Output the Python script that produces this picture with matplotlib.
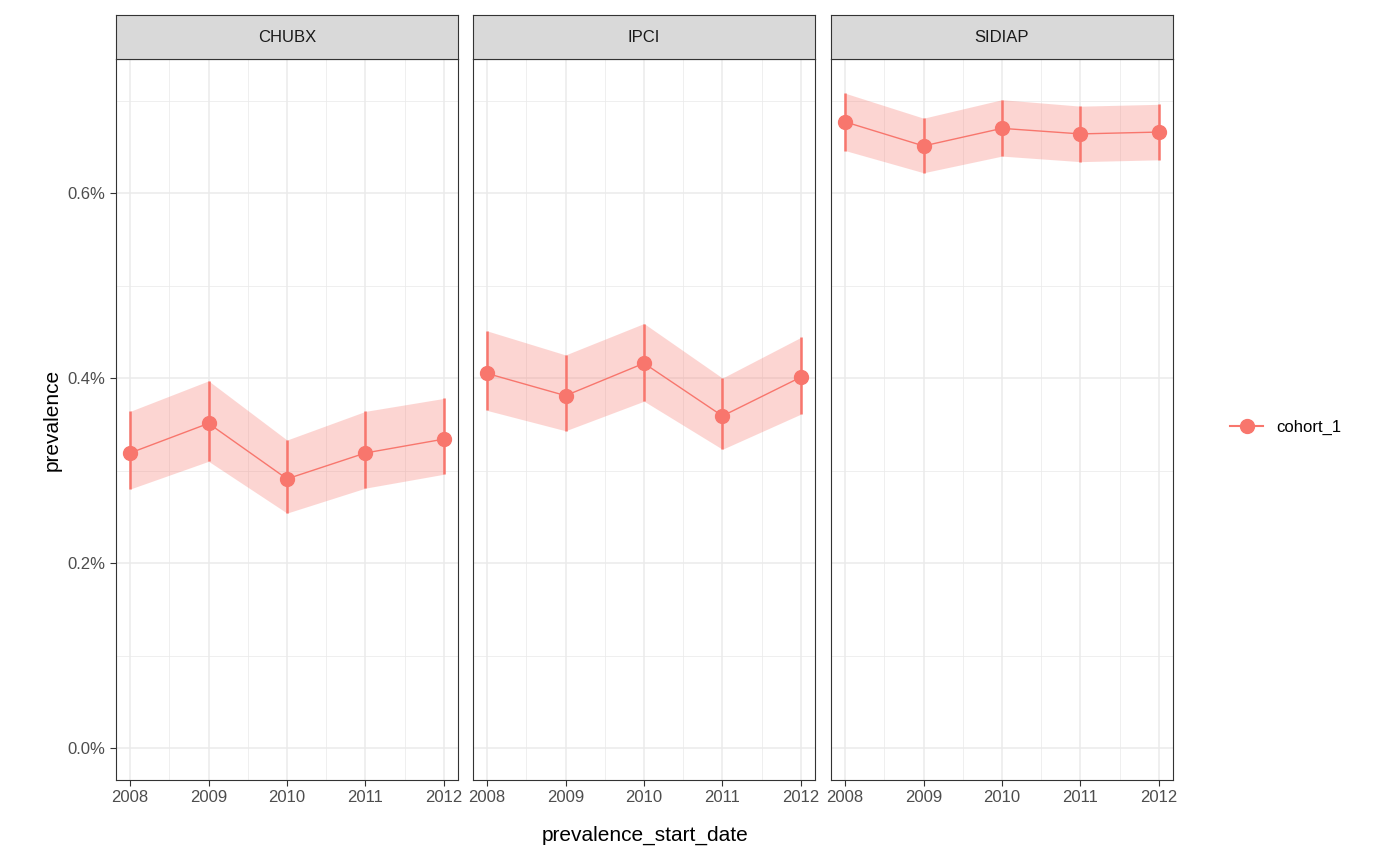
import matplotlib
matplotlib.use("Agg")
import matplotlib.pyplot as plt
from matplotlib.lines import Line2D

plt.rcParams['font.family'] = ['Liberation Sans', 'DejaVu Sans']

years = [2008, 2009, 2010, 2011, 2012]
databases = ["CHUBX", "IPCI", "SIDIAP"]
est = {
    "CHUBX": [0.319, 0.351, 0.291, 0.319, 0.334],
    "IPCI": [0.405, 0.381, 0.416, 0.359, 0.401],
    "SIDIAP": [0.677, 0.651, 0.670, 0.664, 0.666],
}
upper = {
    "CHUBX": [0.364, 0.397, 0.333, 0.364, 0.378],
    "IPCI": [0.451, 0.425, 0.459, 0.400, 0.444],
    "SIDIAP": [0.708, 0.681, 0.701, 0.694, 0.696],
}
lower = {
    "CHUBX": [0.280, 0.310, 0.254, 0.281, 0.296],
    "IPCI": [0.365, 0.343, 0.375, 0.323, 0.361],
    "SIDIAP": [0.646, 0.622, 0.640, 0.634, 0.636],
}
col = "#F8766D"

fig = plt.figure(figsize=(14, 8.65), dpi=100)
lefts = [116, 473, 831]
W, H = 1400, 865
for i, db in enumerate(databases):
    ax = fig.add_axes([lefts[i]/W, 1-780/H, 342/W, 721/H])
    ax.set_xlim(2007.82, 2012.18)
    ax.set_ylim(-0.0346, 0.745)
    ax.set_xticks(years)
    ax.set_xticks([2008.5, 2009.5, 2010.5, 2011.5], minor=True)
    ax.set_yticks([0, 0.2, 0.4, 0.6])
    ax.set_yticks([0.1, 0.3, 0.5, 0.7], minor=True)
    ax.grid(True, which='major', color='#EBEBEB', lw=1.1)
    ax.grid(True, which='minor', color='#EBEBEB', lw=0.55)
    ax.set_axisbelow(True)
    ax.tick_params(which='minor', length=0)
    ax.tick_params(which='major', length=4, color='#333333', labelsize=12, labelcolor='#4D4D4D')
    if i == 0:
        ax.set_yticklabels(["0.0%", "0.2%", "0.4%", "0.6%"])
        ax.set_ylabel("prevalence", fontsize=15)
    else:
        ax.tick_params(axis='y', left=False, labelleft=False)
    for s in ax.spines.values():
        s.set_color('#333333')
    ax.fill_between(years, lower[db], upper[db], color=col, alpha=0.3, lw=0)
    ax.vlines(years, lower[db], upper[db], color=col, lw=1.8)
    ax.plot(years, est[db], color=col, lw=1, marker='o', ms=10)
    sax = fig.add_axes([lefts[i]/W, 1-59/H, 342/W, 44/H])
    sax.set_facecolor('#D9D9D9')
    sax.set_xticks([]); sax.set_yticks([])
    for s in sax.spines.values():
        s.set_color('#333333')
    sax.text(0.5, 0.5, db, ha='center', va='center', fontsize=12, color='#1A1A1A', transform=sax.transAxes)

fig.text(645/W, 1-835/H, "prevalence_start_date", ha='center', va='center', fontsize=15)
h = Line2D([], [], color=col, marker='o', ms=10, lw=1.5)
fig.legend([h], ["cohort_1"], loc='center left', bbox_to_anchor=(1215/W, 1-427/H), frameon=False, fontsize=12, handlelength=2)
fig.savefig("out.png", dpi=100)
